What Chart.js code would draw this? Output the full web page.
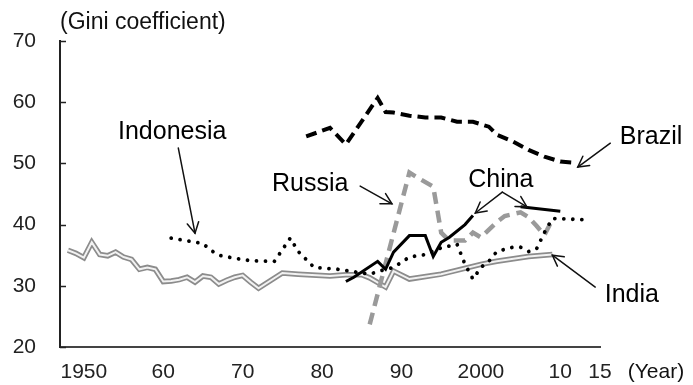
<!DOCTYPE html>
<html><head><meta charset="utf-8">
<script src="https://cdn.jsdelivr.net/npm/chart.js@4.4.1/dist/chart.umd.min.js"></script>
<style>html,body{margin:0;padding:0;background:#fff;}#wrap{width:693px;height:385px;}</style>
</head><body><div id="wrap"><canvas id="c" width="693" height="385"></canvas></div>
<script>
// ---- data ----
const indiaYears = [1948,1949,1950,1951,1952,1953,1954,1955,1956,1957,1958,1959,1960,1961,1962,1963,1964,1965,1966,1967,1968,1969,1970,1971,1972,1975,1977,1981,1983,1985,1986,1988,1989,1991,1995,2000,2002,2006,2009];
const indiaGini  = [35.8,35.3,34.6,37.1,35.1,34.9,35.5,34.7,34.3,32.7,33.0,32.7,30.7,30.8,31.0,31.4,30.6,31.6,31.4,30.3,30.9,31.4,31.7,30.6,29.6,32.1,31.9,31.6,31.8,31.8,31.3,29.8,32.4,31.1,31.9,33.5,34.0,34.8,35.1];

const indonesiaYears = [1961,1965,1966,1967,1969,1971,1974,1976,1977,1979,1982,1985,1986,1988,1989,1991,1993,1995,1997,1998,1999,2000,2001,2002,2004,2005,2006,2007,2008,2009,2013];
const indonesiaGini  = [37.8,36.9,35.8,35.0,34.5,34.1,34.0,37.8,35.6,33.0,32.7,32.1,31.9,32.7,33.0,34.7,35.1,36.2,36.8,33.5,31.1,33.0,34.0,35.6,36.3,36.3,35.6,36.0,38.7,41.0,40.8];

const brazilYears = [1978,1981,1983,1987,1988,1989,1991,1993,1995,1997,1999,2001,2002,2004,2006,2008,2010,2012];
const brazilGini  = [54.4,55.8,53.1,60.7,58.4,58.3,57.8,57.5,57.5,56.8,56.8,56.0,54.7,53.6,52.2,51.1,50.3,50.1];

const russiaYears = [1986,1991,1992,1994,1995,1996,1998,1999,2000,2002,2003,2005,2006,2007,2008,2009];
const russiaGini  = [23.7,48.5,47.7,46.2,38.7,37.4,37.4,38.7,37.9,40.4,41.4,42.0,41.2,39.8,38.3,40.8];

const chinaYears = [1983,1984,1987,1988,1989,1991,1993,1994,1995,1996,1998,1999,2002,2005,2010];
const chinaGini  = [30.7,31.4,34.0,32.7,35.5,38.2,38.2,34.8,37.1,37.9,40.0,41.5,null,42.9,42.2];

const tickYears  = [1950,1960,1970,1980,1990,2000,2010,2015];
const tickLabels = ['1950','60','70','80','90','2000','10','15'];
const yTicks = [20,30,40,50,60,70];

// ---- annotations (in data units: year, Gini) ----
const seriesLabels = [
  {text:'Indonesia', x:1954.3, y:54.0},
  {text:'Russia',    x:1973.7, y:45.5},
  {text:'China',     x:1998.4, y:46.1},
  {text:'Brazil',    x:2017.5, y:53.2},
  {text:'India',     x:2015.6, y:27.4}
];
const arrows = [
  {from:[1961.9,52.5], to:[1964.0,38.6]},
  {from:[1984.8,46.3], to:[1988.8,43.4]},
  {from:[2002.7,45.3], to:[1999.3,41.9]},
  {from:[2002.7,45.3], to:[2005.8,42.9]},
  {from:[2016.3,53.3], to:[2012.2,49.4]},
  {from:[2014.4,29.8], to:[2009.0,35.0]}
];

const pts = (xs, ys) => xs.map((x,i)=>({x, y: ys[i]}));
const FONT = '"Liberation Sans", Arial, sans-serif';

const annotPlugin = {
  id:'annot',
  afterDraw(chart){
    const {ctx, chartArea:a, scales:{x, y}} = chart;
    ctx.save();
    // inward tick marks on the y axis
    ctx.strokeStyle = '#222'; ctx.lineWidth = 1.5;
    yTicks.forEach(v=>{
      const py = Math.round(y.getPixelForValue(v)) + 0.5;
      ctx.beginPath(); ctx.moveTo(a.left, py); ctx.lineTo(a.left + 6, py); ctx.stroke();
    });
    // series labels
    ctx.fillStyle = '#000';
    ctx.font = '25px ' + FONT;
    ctx.textAlign = 'left'; ctx.textBaseline = 'alphabetic';
    seriesLabels.forEach(l=> ctx.fillText(l.text, x.getPixelForValue(l.x), y.getPixelForValue(l.y)));
    // arrows
    ctx.strokeStyle = '#111'; ctx.lineWidth = 1.5; ctx.lineCap = 'round';
    arrows.forEach(ar=>{
      const x1 = x.getPixelForValue(ar.from[0]), y1 = y.getPixelForValue(ar.from[1]);
      const x2 = x.getPixelForValue(ar.to[0]),   y2 = y.getPixelForValue(ar.to[1]);
      const ang = Math.atan2(y2 - y1, x2 - x1), L = 12, w = 0.5;
      ctx.beginPath(); ctx.moveTo(x1, y1); ctx.lineTo(x2, y2); ctx.stroke();
      ctx.beginPath();
      ctx.moveTo(x2 - L*Math.cos(ang - w), y2 - L*Math.sin(ang - w));
      ctx.lineTo(x2, y2);
      ctx.lineTo(x2 - L*Math.cos(ang + w), y2 - L*Math.sin(ang + w));
      ctx.stroke();
    });
    // axis captions
    ctx.font = '23px ' + FONT;
    ctx.fillStyle = '#111';
    ctx.fillText('(Gini coefficient)', a.left, 29);
    ctx.font = '21px ' + FONT;
    ctx.textBaseline = 'middle';
    ctx.fillText('(Year)', x.getPixelForValue(2018.5), a.bottom + 13 + 12.6);
    ctx.restore();
  }
};

const ds = (label, xs, ys, opts) => Object.assign({
  label, data: pts(xs, ys), pointRadius: 0, pointHoverRadius: 0, tension: 0,
  fill: false, spanGaps: false
}, opts);

new Chart(document.getElementById('c'), {
  type: 'line',
  data: {
    datasets: [
      ds('China', chinaYears, chinaGini, {borderColor:'#000', borderWidth:3}),
      ds('Brazil', brazilYears, brazilGini, {borderColor:'#000', borderWidth:4, borderDash:[11,6]}),
      ds('Indonesia', indonesiaYears, indonesiaGini, {borderColor:'#000', borderWidth:3.8, borderDash:[0.01,9], borderCapStyle:'round'}),
      ds('Russia', russiaYears, russiaGini, {borderColor:'#9a9a9a', borderWidth:4.5, borderDash:[12,7]}),
      ds('India', indiaYears, indiaGini, {borderColor:'#f2f2f2', borderWidth:2}),
      ds('India (outline)', indiaYears, indiaGini, {borderColor:'#8c8c8c', borderWidth:5.5})
    ]
  },
  options: {
    responsive: false,
    animation: false,
    events: [],
    layout: {padding: {left: 12.6, top: 41, right: 93, bottom: 0}},
    plugins: {legend: {display: false}, tooltip: {enabled: false}, title: {display: false}},
    scales: {
      x: {
        type: 'linear', min: 1947, max: 2015,
        grid: {display: false, drawTicks: false},
        border: {display: true, color: '#444', width: 2},
        afterBuildTicks: s => { s.ticks = tickYears.map(v => ({value: v})); },
        afterFit: s => { s.height = 38; s.paddingLeft = 0; s.paddingRight = 0; },
        ticks: {
          autoSkip: false, maxRotation: 0, padding: 13, color: '#222',
          font: {family: FONT, size: 21},
          callback: v => { const i = tickYears.indexOf(v); return i >= 0 ? tickLabels[i] : ''; }
        }
      },
      y: {
        type: 'linear', min: 20, max: 70,
        grid: {display: false, drawTicks: false},
        border: {display: true, color: '#222', width: 2},
        afterBuildTicks: s => { s.ticks = yTicks.map(v => ({value: v})); },
        afterFit: s => { s.width = 47.4; s.paddingTop = 0; s.paddingBottom = 0; },
        ticks: {padding: 24, color: '#222', font: {family: FONT, size: 21}}
      }
    }
  },
  plugins: [annotPlugin]
});
</script></body></html>
